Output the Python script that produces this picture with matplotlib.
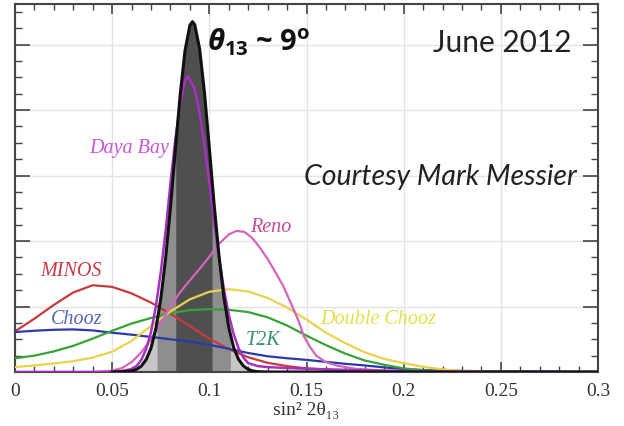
import numpy as np
import matplotlib
matplotlib.use("Agg")
import matplotlib.pyplot as plt
from matplotlib.ticker import MultipleLocator

plt.rcParams['mathtext.fontset'] = 'custom'
plt.rcParams['mathtext.it'] = 'Open Sans:italic:bold'
plt.rcParams['mathtext.rm'] = 'Open Sans:bold'
plt.rcParams['mathtext.bf'] = 'Open Sans:bold'

# ---------------- data ----------------
x_ticks = [0, 0.05, 0.1, 0.15, 0.2, 0.25, 0.3]
x_tick_labels = ["0", "0.05", "0.1", "0.15", "0.2", "0.25", "0.3"]

# combined fit (black, shaded)
comb_x = [0.05, 0.055, 0.06, 0.0625, 0.065, 0.0675, 0.07, 0.0725, 0.075, 0.0775, 0.08,
          0.0825, 0.085, 0.0875, 0.09, 0.0913, 0.0925, 0.095, 0.0975, 0.1, 0.1025,
          0.105, 0.1075, 0.11, 0.1125, 0.115, 0.1175, 0.12, 0.1225, 0.125, 0.13, 0.3]
comb_y = [0.0, 0.001, 0.003, 0.008, 0.018, 0.038, 0.073, 0.133, 0.223, 0.347, 0.503,
          0.677, 0.847, 0.982, 1.059, 1.070, 1.061, 0.987, 0.853, 0.684, 0.510,
          0.353, 0.227, 0.136, 0.075, 0.039, 0.019, 0.008, 0.003, 0.001, 0.0, 0.0]
band2 = (0.0731, 0.1108)
band1 = (0.0827, 0.1014)

daya_x = [0.0, 0.05, 0.055, 0.06, 0.0625, 0.065, 0.0675, 0.07, 0.0725, 0.075, 0.0775,
          0.08, 0.0825, 0.085, 0.0875, 0.089, 0.0925, 0.095, 0.0975, 0.1, 0.1025,
          0.105, 0.1075, 0.11, 0.1125, 0.115, 0.1175, 0.12, 0.125, 0.13, 0.14, 0.15,
          0.16, 0.18, 0.2, 0.22, 0.24, 0.3]
daya_y = [0.0, 0.0, 0.003, 0.009, 0.018, 0.037, 0.07, 0.122, 0.20, 0.305, 0.43,
          0.577, 0.71, 0.82, 0.89, 0.904, 0.864, 0.791, 0.691, 0.577, 0.459,
          0.349, 0.253, 0.175, 0.116, 0.073, 0.044, 0.027, 0.018, 0.015, 0.012, 0.010,
          0.008, 0.005, 0.003, 0.001, 0.0, 0.0]

reno_x = [0.0, 0.04, 0.05, 0.055, 0.06, 0.065, 0.07, 0.075, 0.08, 0.085, 0.09, 0.095,
          0.1, 0.105, 0.11, 0.114, 0.118, 0.122, 0.126, 0.13, 0.134, 0.138, 0.142,
          0.146, 0.1485, 0.152, 0.155, 0.16, 0.166, 0.175, 0.19, 0.21, 0.3]
reno_y = [0.0, 0.0, 0.004, 0.012, 0.03, 0.06, 0.10, 0.15, 0.20, 0.244, 0.28, 0.315,
          0.352, 0.392, 0.42, 0.431, 0.428, 0.41, 0.38, 0.345, 0.305, 0.263, 0.21,
          0.155, 0.111, 0.075, 0.05, 0.03, 0.019, 0.01, 0.004, 0.0, 0.0]

minos_x = [0.0, 0.01, 0.02, 0.03, 0.04, 0.05, 0.06, 0.07, 0.08, 0.09, 0.1, 0.11, 0.12,
           0.13, 0.14, 0.15, 0.17, 0.2, 0.22, 0.3]
minos_y = [0.124, 0.163, 0.205, 0.243, 0.265, 0.260, 0.240, 0.212, 0.178, 0.140, 0.102,
           0.070, 0.045, 0.028, 0.018, 0.011, 0.005, 0.001, 0.0, 0.0]

chooz_x = [0.0, 0.01, 0.02, 0.03, 0.04, 0.05, 0.06, 0.07, 0.08, 0.09, 0.1, 0.11, 0.12,
           0.13, 0.14, 0.15, 0.16, 0.17, 0.18, 0.19, 0.2, 0.21, 0.22, 0.25, 0.28, 0.3]
chooz_y = [0.122, 0.126, 0.129, 0.130, 0.127, 0.120, 0.114, 0.107, 0.100, 0.093, 0.083,
           0.071, 0.058, 0.048, 0.042, 0.037, 0.031, 0.025, 0.020, 0.014, 0.009, 0.006,
           0.004, 0.002, 0.001, 0.0]

t2k_x = [0.0, 0.01, 0.02, 0.03, 0.04, 0.05, 0.06, 0.07, 0.08, 0.09, 0.1, 0.11, 0.12,
         0.13, 0.14, 0.15, 0.16, 0.17, 0.18, 0.19, 0.2, 0.21, 0.22, 0.24, 0.3]
t2k_y = [0.042, 0.050, 0.063, 0.080, 0.102, 0.126, 0.148, 0.165, 0.180, 0.189, 0.192,
         0.190, 0.183, 0.167, 0.142, 0.111, 0.082, 0.056, 0.035, 0.022, 0.011, 0.005,
         0.002, 0.0, 0.0]

dchooz_x = [0.0, 0.01, 0.02, 0.03, 0.04, 0.05, 0.06, 0.07, 0.08, 0.09, 0.1, 0.11, 0.12,
            0.13, 0.14, 0.15, 0.16, 0.17, 0.18, 0.19, 0.2, 0.21, 0.22, 0.23, 0.25, 0.3]
dchooz_y = [0.015, 0.020, 0.026, 0.033, 0.044, 0.062, 0.095, 0.141, 0.185, 0.222, 0.245,
            0.253, 0.246, 0.226, 0.197, 0.160, 0.120, 0.088, 0.060, 0.040, 0.027, 0.016,
            0.008, 0.003, 0.0, 0.0]

# ---------------- figure ----------------
W, H = 624, 427
fig = plt.figure(figsize=(W / 100, H / 100), dpi=100)
ax = fig.add_axes([15 / W, 54 / H, 583 / W, 368 / H])
ax.set_xlim(0, 0.3)
ax.set_ylim(0, 1.124)

# grid
ax.set_axisbelow(True)
ax.grid(True, which='major', color='#e4e4e4', linewidth=1.0)

# shaded combined curve
cx = np.array(comb_x)
cy = np.array(comb_y)

def band(lo, hi, color):
    xs = np.concatenate([[lo], cx[(cx > lo) & (cx < hi)], [hi]])
    ys = np.interp(xs, cx, cy)
    ax.fill_between(xs, ys, 0, color=color, linewidth=0, zorder=2)

ax.fill_between(cx, cy, 0, color='#c6c6c6', linewidth=0, zorder=2)
band(band2[0], band2[1], '#8e8e8e')
band(band1[0], band1[1], '#4f4f4f')

lw = 1.6
ax.plot(minos_x, minos_y, color='#c83a3a', lw=lw, zorder=3)
ax.plot(chooz_x, chooz_y, color='#2a3aa8', lw=lw, zorder=3)
ax.plot(t2k_x, t2k_y, color='#36a336', lw=lw, zorder=3)
ax.plot(dchooz_x, dchooz_y, color='#e8d24e', lw=lw, zorder=3)
ax.plot(reno_x, reno_y, color='#d464bc', lw=lw, zorder=3)
ax.plot(daya_x, daya_y, color='#a62fc4', lw=1.8, zorder=4)
ax.plot(comb_x, comb_y, color='#111111', lw=2.2, zorder=5)

# labels on curves
lab = dict(family=['Liberation Serif', 'DejaVu Serif'], style='italic', fontsize=14.5)
ax.text(0.0795, 0.687, 'Daya Bay', color='#c955d8', ha='right', va='center', **lab)
ax.text(0.121, 0.443, 'Reno', color='#c94a98', ha='left', va='center', **lab)
ax.text(0.0131, 0.311, 'MINOS', color='#cc3a4a', ha='left', va='center', **lab)
ax.text(0.0183, 0.162, 'Chooz', color='#5468b4', ha='left', va='center', **lab)
ax.text(0.1185, 0.100, 'T2K', color='#3a9070', ha='left', va='center', **lab)
ax.text(0.157, 0.162, 'Double Chooz', color='#e2e04a', ha='left', va='center', **lab)

# annotations
ax.text(0.099, 1.008, r'$\theta_{13}$ ~ 9$^{\mathrm{o}}$', fontsize=21,
        family='Open Sans', fontweight='bold', color='#111111', ha='left', va='center', zorder=6)
ax.text(0.2866, 1.008, 'June 2012', fontsize=21.5, family='Lato', color='#222222',
        ha='right', va='center')
ax.text(0.2892, 0.598, 'Courtesy Mark Messier', fontsize=20.5, family='Lato', style='italic',
        color='#222222', ha='right', va='center')

# ticks
ax.set_xticks(x_ticks)
ax.set_xticklabels(x_tick_labels, family=['Liberation Serif', 'DejaVu Serif'], fontsize=14,
                   color='#333333')
ax.xaxis.set_minor_locator(MultipleLocator(0.01))
ax.yaxis.set_major_locator(MultipleLocator(0.2))
ax.yaxis.set_minor_locator(MultipleLocator(0.05))
ax.set_yticklabels([])
ax.tick_params(which='both', direction='in', top=True, right=True, colors='#444444')
ax.tick_params(axis='x', which='major', length=7, width=1.2, pad=7)
ax.tick_params(axis='x', which='minor', length=4, width=1.0)
ax.tick_params(axis='y', which='major', length=11, width=1.2)
ax.tick_params(axis='y', which='minor', length=5, width=1.0)
ax.tick_params(axis='x', labelcolor='#333333')
for s in ax.spines.values():
    s.set_color('#444444')
    s.set_linewidth(1.5)

ax.set_xlabel('sin² 2θ₁₃', family=['Liberation Serif', 'DejaVu Serif'], fontsize=14,
              color='#333333', labelpad=2)

fig.savefig('out.png', dpi=100)
